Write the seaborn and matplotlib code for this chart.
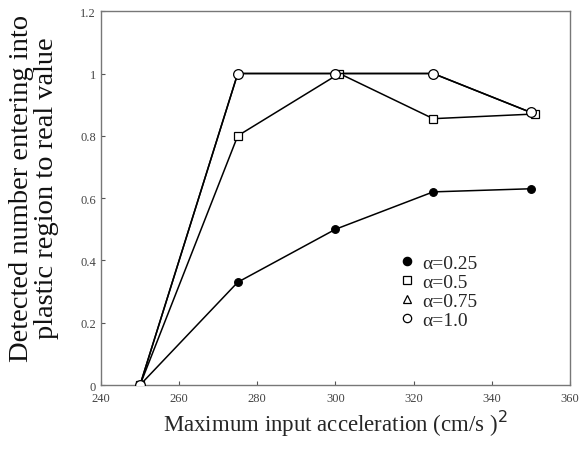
import matplotlib
matplotlib.use("Agg")
import matplotlib.pyplot as plt
from matplotlib.lines import Line2D
import seaborn as sns
import pandas as pd

x_025 = [250, 275, 300, 325, 350]
y_025 = [0.0, 0.33, 0.50, 0.62, 0.63]
x_05 = [250, 275, 301, 325, 351]
y_05 = [0.0, 0.80, 1.0, 0.855, 0.87]
x_075 = [250, 275, 300, 325, 350]
y_075 = [0.0, 1.0, 1.0, 1.0, 0.875]
x_10 = [250, 275, 300, 325, 350]
y_10 = [0.0, 1.0, 1.0, 1.0, 0.875]
labels = ["α=0.25", "α=0.5", "α=0.75", "α=1.0"]
xticks = [240, 260, 280, 300, 320, 340, 360]
yticks = [0, 0.2, 0.4, 0.6, 0.8, 1.0, 1.2]
ytick_labels = ["0", "0.2", "0.4", "0.6", "0.8", "1", "1.2"]

sns.set_style("ticks")
plt.rcParams["font.family"] = ["Liberation Serif", "DejaVu Serif"]
plt.rcParams["xtick.direction"] = "in"
plt.rcParams["ytick.direction"] = "in"

fig = plt.figure(figsize=(5.87, 4.52), dpi=100)
ax = fig.add_axes([0.172, 0.146, 0.799, 0.827])

series = [
    (x_025, y_025, "o", "black", 5.5, 3),
    (x_05, y_05, "s", "white", 6.0, 2),
    (x_075, y_075, "^", "white", 3.0, 1),
    (x_10, y_10, "o", "white", 7.0, 4),
]
proxies = []
for (xs, ys, mk, fc, ms, z), lab in zip(series, labels):
    df = pd.DataFrame({"x": xs, "y": ys})
    sns.lineplot(data=df, x="x", y="y", ax=ax, color="black", lw=1.1,
                 marker=mk, markersize=ms, markerfacecolor=fc,
                 markeredgecolor="black", markeredgewidth=0.9,
                 zorder=z, legend=False)
    proxies.append(Line2D([], [], linestyle="none", marker=mk, markersize=6,
                          markerfacecolor=fc, markeredgecolor="black",
                          markeredgewidth=0.9))

ax.set_xlim(240, 360)
ax.set_ylim(0, 1.2)
ax.set_xticks(xticks)
ax.set_yticks(yticks)
ax.set_yticklabels(ytick_labels)
ax.tick_params(labelsize=9, colors="#555555", length=3, labelcolor="#444444")
ax.tick_params(axis="x", pad=5)
for s in ax.spines.values():
    s.set_color("#777777")
    s.set_linewidth(1.0)

ax.set_xlabel("Maximum input acceleration (cm/s )$^2$", fontsize=16.5, labelpad=3)
ax.set_ylabel("")
fig.text(34 / 587, 1 - 188 / 452,
         "Detected number entering into\nplastic region to real value",
         rotation=90, ha="center", va="center", fontsize=20.5,
         linespacing=0.95, color="#111111")

ax.legend(proxies, labels, loc="upper left", bbox_to_anchor=(0.62, 0.375),
          frameon=False, fontsize=14, handlelength=0.6, handletextpad=0.45,
          labelspacing=0.07, borderpad=0)

fig.savefig("out.png", dpi=100)
